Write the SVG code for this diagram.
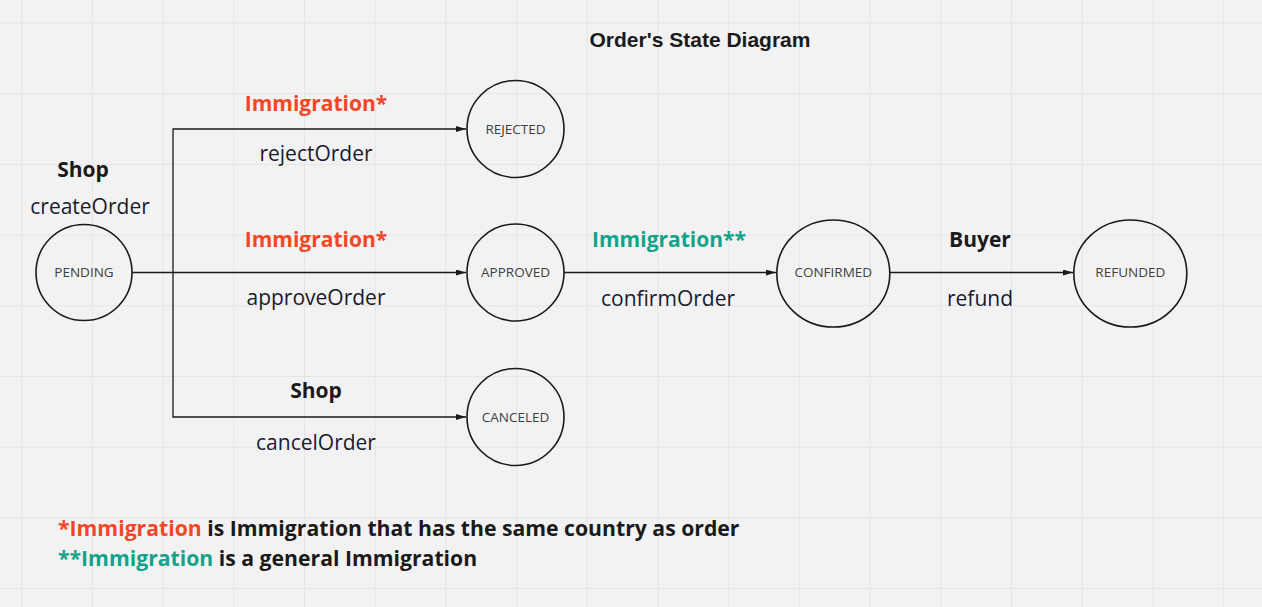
<svg xmlns="http://www.w3.org/2000/svg" width="1262" height="607" viewBox="0 0 1262 607">
<style>
.grid{stroke:#e5e5e5;stroke-width:1;fill:none}
.node{fill:none;stroke:#1a1a1a;stroke-width:1.6}
.nlabel{font-family:"Open Sans","Liberation Sans",sans-serif;font-size:13.5px;fill:#404040;text-anchor:middle}
.edge{fill:none;stroke:#1a1a1a;stroke-width:1.3}
.actor{font-family:"Open Sans","Liberation Sans",sans-serif;font-size:21px;font-weight:bold;fill:#1a1a1a;text-anchor:middle}
.red{fill:#f24726}
.teal{fill:#12a38a}
.act{font-family:"Open Sans","Liberation Sans",sans-serif;font-size:21px;fill:#1a1a2e;text-anchor:middle}
.title{font-family:"Liberation Sans",Arial,sans-serif;font-size:21px;font-weight:bold;fill:#1a1a1a;text-anchor:middle}
.legend{font-family:"Open Sans","Liberation Sans",sans-serif;font-size:21.2px;font-weight:bold;fill:#1a1a1a}
</style>
<defs>
<marker id="arr" viewBox="0 0 10 6" refX="10" refY="3" markerWidth="10" markerHeight="6" markerUnits="userSpaceOnUse" orient="auto">
<path d="M0,0 L10,3 L0,6 Z" fill="#1a1a1a"/>
</marker>
</defs>
<rect width="1262" height="607" fill="#f2f2f2"/>
<path class="grid" d="M21.7,0V607M92.4,0V607M163.1,0V607M233.8,0V607M304.5,0V607M375.2,0V607M445.9,0V607M516.6,0V607M587.3,0V607M658,0V607M728.7,0V607M799.4,0V607M870.1,0V607M940.8,0V607M1011.5,0V607M1082.2,0V607M1152.9,0V607M1223.6,0V607M0,23H1262M0,93.7H1262M0,164.4H1262M0,235.1H1262M0,305.8H1262M0,376.5H1262M0,447.2H1262M0,517.9H1262M0,588.6H1262"/>
<text class="title" x="700" y="47">Order's State Diagram</text>
<g id="connectors">
<path class="edge" d="M132,272.5 H466" marker-end="url(#arr)"/>
<path class="edge" d="M173,272.5 V129 H466" marker-end="url(#arr)"/>
<path class="edge" d="M173,272.5 V417 H466" marker-end="url(#arr)"/>
<path class="edge" d="M564,272.5 H776" marker-end="url(#arr)"/>
<path class="edge" d="M890,272.5 H1073" marker-end="url(#arr)"/>
</g>
<g id="labels">
<text class="actor" x="83" y="177">Shop</text>
<text class="act" x="90" y="214">createOrder</text>
<text class="actor red" x="316" y="111">Immigration*</text>
<text class="act" x="316" y="161">rejectOrder</text>
<text class="actor red" x="316" y="247">Immigration*</text>
<text class="act" x="316" y="305">approveOrder</text>
<text class="actor" x="316" y="398">Shop</text>
<text class="act" x="316" y="450">cancelOrder</text>
<text class="actor teal" x="669" y="247">Immigration**</text>
<text class="act" x="668" y="306">confirmOrder</text>
<text class="actor" x="980" y="247">Buyer</text>
<text class="act" x="980" y="306">refund</text>
</g>
<g id="pending"><circle class="node" cx="84" cy="272.5" r="48"/><text class="nlabel" x="84" y="277">PENDING</text></g>
<g id="rejected"><circle class="node" cx="515.5" cy="129" r="48.5"/><text class="nlabel" x="515.5" y="133.5">REJECTED</text></g>
<g id="approved"><circle class="node" cx="515.5" cy="272.5" r="48.5"/><text class="nlabel" x="515.5" y="277">APPROVED</text></g>
<g id="canceled"><circle class="node" cx="515.5" cy="417" r="48.5"/><text class="nlabel" x="515.5" y="421.5">CANCELED</text></g>
<g id="confirmed"><ellipse class="node" cx="833.3" cy="273.5" rx="56.5" ry="53.5"/><text class="nlabel" x="833.3" y="277">CONFIRMED</text></g>
<g id="refunded"><ellipse class="node" cx="1130.3" cy="273.5" rx="56.5" ry="53.5"/><text class="nlabel" x="1130.3" y="277">REFUNDED</text></g>
<g id="legend">
<text class="legend" x="58" y="536"><tspan class="red">*Immigration</tspan> is Immigration that has the same country as order</text>
<text class="legend" x="58" y="566"><tspan class="teal">**Immigration</tspan> is a general Immigration</text>
</g>
</svg>
